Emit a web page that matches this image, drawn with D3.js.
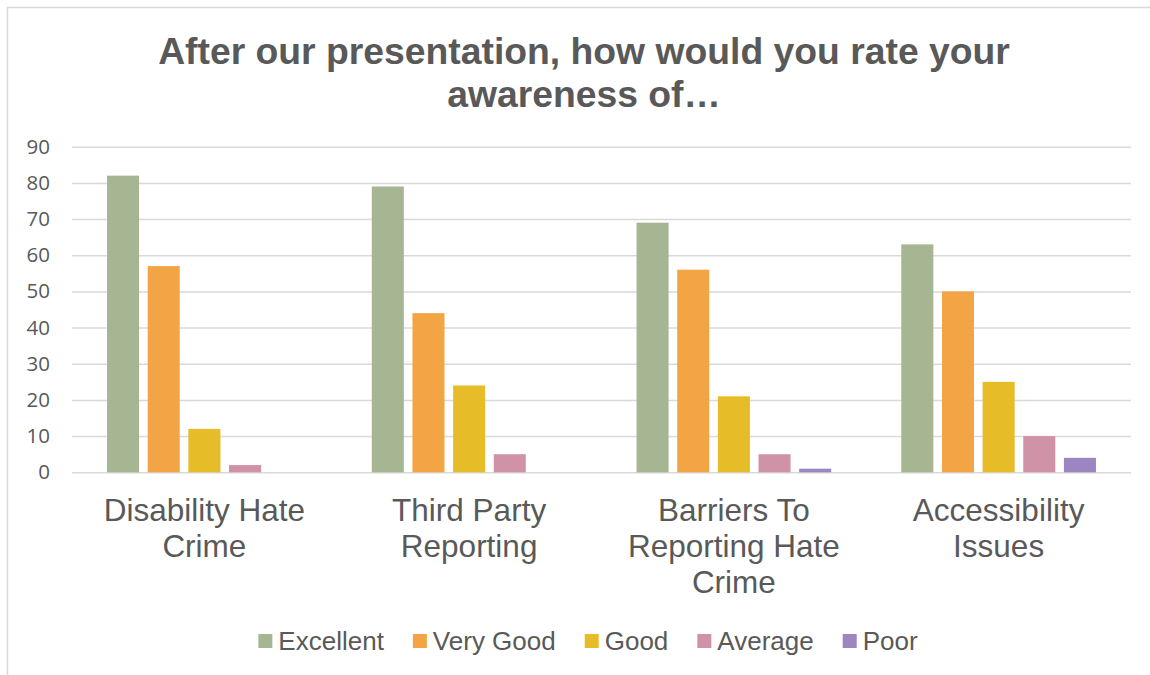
<!DOCTYPE html>
<html>
<head>
<meta charset="utf-8">
<script src="https://cdn.jsdelivr.net/npm/d3@7"></script>
<style>
  html, body { margin: 0; padding: 0; background: #ffffff; }
  svg { display: block; }
</style>
</head>
<body>
<svg id="chart" width="1150" height="675"></svg>
<script>
// ---- data ----
const titleLines = ["After our presentation, how would you rate your", "awareness of…"];
const categories = ["Disability Hate Crime", "Third Party Reporting", "Barriers To Reporting Hate Crime", "Accessibility Issues"];
const seriesNames = ["Excellent", "Very Good", "Good", "Average", "Poor"];
const excellent = [82, 79, 69, 63];
const veryGood  = [57, 44, 56, 50];
const good      = [12, 24, 21, 25];
const average   = [2, 5, 5, 10];
const poor      = [0, 0, 1, 4];
const yTicks = [0, 10, 20, 30, 40, 50, 60, 70, 80, 90];
const colors = ["#A6B592", "#F3A546", "#E6BC28", "#D092A7", "#9C85C0"];

const seriesValues = [excellent, veryGood, good, average, poor];
const table = categories.map((c, i) => ({
  category: c,
  values: seriesNames.map((s, j) => ({ series: s, value: seriesValues[j][i] }))
}));

// ---- layout ----
const svg = d3.select("#chart");
const textColor = "#595959";
const plot = { left: 72, right: 1131, top: 146.7, bottom: 472.3 };

// outer border
svg.append("rect")
  .attr("x", 7.5).attr("y", 7.5)
  .attr("width", 1160).attr("height", 700)
  .attr("fill", "#ffffff")
  .attr("stroke", "#d9d9d9").attr("stroke-width", 1.5);

// title
const title = svg.append("text")
  .attr("text-anchor", "middle")
  .attr("font-family", "Liberation Sans, Arial, sans-serif")
  .attr("font-weight", "bold")
  .attr("font-size", 37.3)
  .attr("fill", textColor);
titleLines.forEach((t, i) => {
  title.append("tspan").attr("x", 584).attr("y", 64 + i * 43).text(t);
});

// scales
const y = d3.scaleLinear().domain([0, 90]).range([plot.bottom, plot.top]);
const x0 = d3.scaleBand().domain(categories).range([plot.left, plot.right]).paddingInner(0).paddingOuter(0);
const x1 = d3.scaleBand().domain(seriesNames).range([0, x0.bandwidth()]).paddingInner(0.212).paddingOuter(0.862);
const color = d3.scaleOrdinal().domain(seriesNames).range(colors);

// y axis with gridlines
const yAxis = d3.axisLeft(y)
  .tickValues(yTicks)
  .tickSize(-(plot.right - plot.left))
  .tickPadding(22)
  .tickFormat(d3.format("d"));
const gy = svg.append("g")
  .attr("transform", `translate(${plot.left},0)`)
  .call(yAxis);
gy.select(".domain").remove();
gy.selectAll(".tick line").attr("stroke", "#d9d9d9").attr("stroke-width", 1.5);
gy.selectAll(".tick text")
  .attr("fill", textColor)
  .attr("font-family", "Open Sans, Noto Sans, sans-serif")
  .attr("font-size", 20.5);

// bars
const groups = svg.append("g").selectAll("g")
  .data(table).join("g")
  .attr("transform", d => `translate(${x0(d.category)},0)`);
groups.selectAll("rect")
  .data(d => d.values).join("rect")
  .attr("x", d => x1(d.series))
  .attr("width", x1.bandwidth())
  .attr("y", d => y(d.value))
  .attr("height", d => y(0) - y(d.value))
  .attr("fill", d => color(d.series));

// category labels (wrapped)
const catFont = 31.5;
const gx = svg.append("g")
  .attr("font-family", "Liberation Sans, Arial, sans-serif")
  .attr("font-size", catFont)
  .attr("fill", textColor)
  .attr("text-anchor", "middle");
categories.forEach(c => {
  const cx = x0(c) + x0.bandwidth() / 2;
  const t = gx.append("text").attr("x", cx).attr("y", 521);
  const words = c.split(" ");
  let lines = [], line = [];
  const probe = gx.append("text").attr("visibility", "hidden");
  words.forEach(w => {
    const trial = line.concat(w).join(" ");
    probe.text(trial);
    if (line.length && probe.node().getComputedTextLength() > 245) {
      lines.push(line.join(" "));
      line = [w];
    } else {
      line.push(w);
    }
  });
  lines.push(line.join(" "));
  probe.remove();
  lines.forEach((l, i) => {
    t.append("tspan").attr("x", cx).attr("y", 521 + i * 36).text(l);
  });
});

// legend
const legend = svg.append("g")
  .attr("font-family", "Liberation Sans, Arial, sans-serif")
  .attr("font-size", 26)
  .attr("fill", textColor);
const sq = 14, sqGap = 6, itemGap = 29;
let cursor = 0;
seriesNames.forEach(s => {
  const g = legend.append("g");
  g.append("rect").attr("x", cursor).attr("y", 634).attr("width", sq).attr("height", sq).attr("fill", color(s));
  const txt = g.append("text").attr("x", cursor + sq + sqGap).attr("y", 650).text(s);
  const w = txt.node().getComputedTextLength();
  cursor += sq + sqGap + w + itemGap;
});
const totalW = cursor - itemGap;
legend.attr("transform", `translate(${588 - totalW / 2},0)`);
</script>
</body>
</html>
